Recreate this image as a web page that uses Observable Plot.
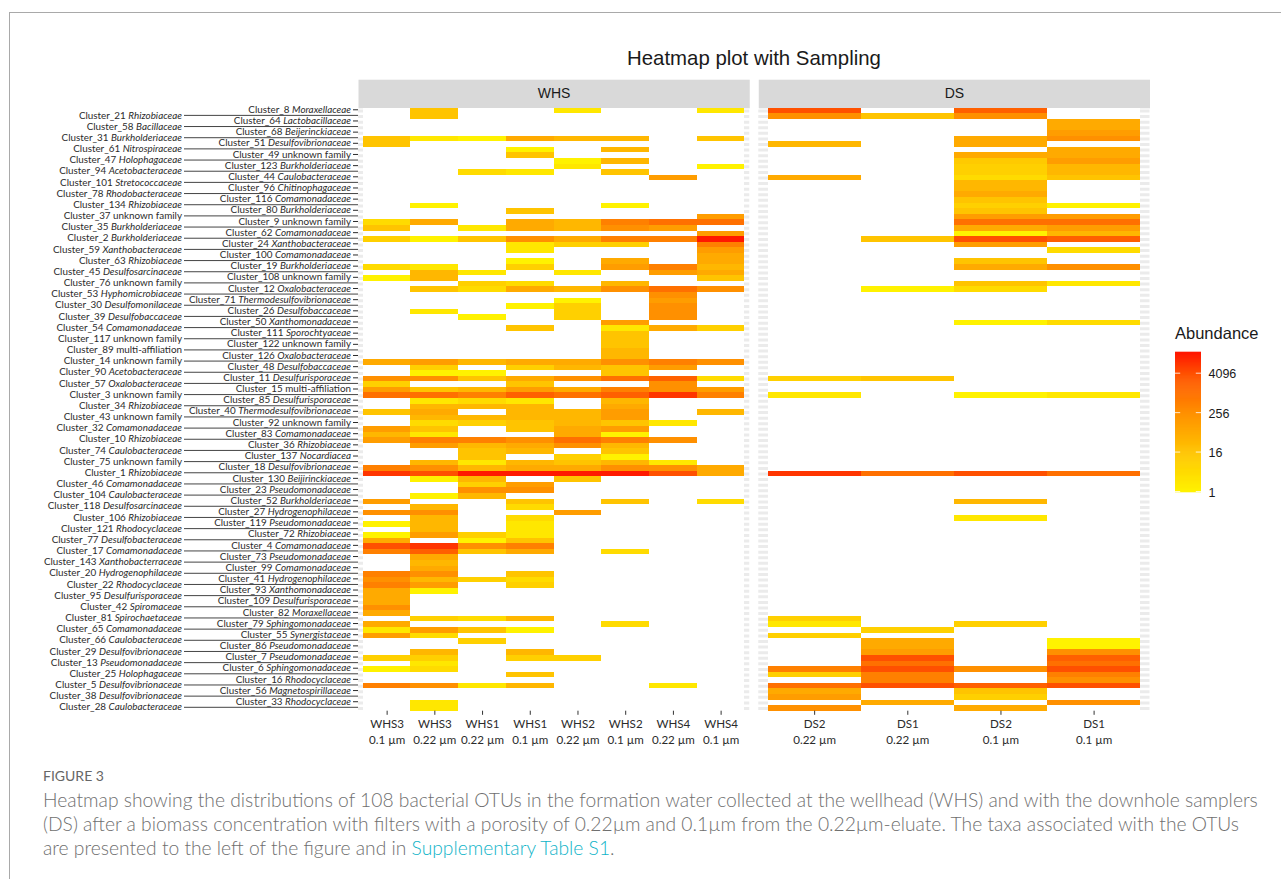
<!DOCTYPE html>
<html>
<head>
<meta charset="utf-8">
<script src="https://cdn.jsdelivr.net/npm/d3@7"></script>
<script src="https://cdn.jsdelivr.net/npm/@observablehq/plot@0.6"></script>
<style>
  html, body { margin: 0; padding: 0; background: #fff; }
  #page { position: relative; width: 1281px; height: 879px; overflow: hidden; }
  #frameLine { position: absolute; left: 9px; top: 12px; right: -5px; bottom: -5px; border-top: 1px solid #a9a9a9; border-left: 1px solid #a9a9a9; }
  #chart { position: absolute; left: 0; top: 0; }
  #legend { position: absolute; left: 1160px; top: 340px; }
  #title { position: absolute; left: 627px; top: 47px; font: 20.4px "Liberation Sans", sans-serif; color: #1a1a1a; white-space: nowrap; }
  #legendTitle { position: absolute; left: 1175px; top: 324px; font: 16.5px "Liberation Sans", sans-serif; color: #1a1a1a; white-space: nowrap; }
  #caption { position: absolute; left: 43px; top: 767px; font-family: Lato, sans-serif; color: #6f6f6f; white-space: nowrap; }
  #caption .fig { font-size: 14px; font-weight: 400; color: #666; line-height: 18px; margin-bottom: 3px; }
  #caption .line { font-size: 19.25px; line-height: 24px; font-weight: 300; }
  #caption a { color: #0fb4c8; text-decoration: none; }
</style>
</head>
<body>
<div id="page">
  <div id="frameLine"></div>
  <div id="title">Heatmap plot with Sampling</div>
  <div id="chart"></div>
  <div id="legendTitle">Abundance</div>
  <div id="legend"></div>
  <div id="caption">
    <div class="fig">FIGURE 3</div>
    <div class="line">Heatmap showing the distributions of 108 bacterial OTUs in the formation water collected at the wellhead (WHS) and with the downhole samplers</div>
    <div class="line">(DS) after a biomass concentration with filters with a porosity of 0.22µm and 0.1µm from the 0.22µm-eluate. The taxa associated with the OTUs</div>
    <div class="line">are presented to the left of the figure and in <a>Supplementary Table S1</a>.</div>
  </div>
</div>
<script>
// Row labels, top to bottom
const clusterRows = [
  "Cluster_8 Moraxellaceae","Cluster_21 Rhizobiaceae","Cluster_64 Lactobacillaceae","Cluster_58 Bacillaceae",
  "Cluster_68 Beijerinckiaceae","Cluster_31 Burkholderiaceae","Cluster_51 Desulfovibrionaceae","Cluster_61 Nitrospiraceae",
  "Cluster_49 unknown family","Cluster_47 Holophagaceae","Cluster_123 Burkholderiaceae","Cluster_94 Acetobacteraceae",
  "Cluster_44 Caulobacteraceae","Cluster_101 Stretococcaceae","Cluster_96 Chitinophagaceae","Cluster_78 Rhodobacteraceae",
  "Cluster_116 Comamonadaceae","Cluster_134 Rhizobiaceae","Cluster_80 Burkholderiaceae","Cluster_37 unknown family",
  "Cluster_9 unknown family","Cluster_35 Burkholderiaceae","Cluster_62 Comamonadaceae","Cluster_2 Burkholderiaceae",
  "Cluster_24 Xanthobacteraceae","Cluster_59 Xanthobacteraceae","Cluster_100 Comamonadaceae","Cluster_63 Rhizobiaceae",
  "Cluster_19 Burkholderiaceae","Cluster_45 Desulfosarcinaceae","Cluster_108 unknown family","Cluster_76 unknown family",
  "Cluster_12 Oxalobacteraceae","Cluster_53 Hyphomicrobiaceae","Cluster_71 Thermodesulfovibrionaceae","Cluster_30 Desulfomonilaceae",
  "Cluster_26 Desulfobaccaceae","Cluster_39 Desulfobaccaceae","Cluster_50 Xanthomonadaceae","Cluster_54 Comamonadaceae",
  "Cluster_111 Sporochtyaceae","Cluster_117 unknown family","Cluster_122 unknown family","Cluster_89 multi-affiliation",
  "Cluster_126 Oxalobacteraceae","Cluster_14 unknown family","Cluster_48 Desulfobaccaceae","Cluster_90 Acetobacteraceae",
  "Cluster_11 Desulfurisporaceae","Cluster_57 Oxalobacteraceae","Cluster_15 multi-affiliation","Cluster_3 unknown family",
  "Cluster_85 Desulfurisporaceae","Cluster_34 Rhizobiaceae","Cluster_40 Thermodesulfovibrionaceae","Cluster_43 unknown family",
  "Cluster_92 unknown family","Cluster_32 Comamonadaceae","Cluster_83 Comamonadaceae","Cluster_10 Rhizobiaceae",
  "Cluster_36 Rhizobiaceae","Cluster_74 Caulobacteraceae","Cluster_137 Nocardiacea","Cluster_75 unknown family",
  "Cluster_18 Desulfovibrionaceae","Cluster_1 Rhizobiaceae","Cluster_130 Beijirinckiaceae","Cluster_46 Comamonadaceae",
  "Cluster_23 Pseudomonadaceae","Cluster_104 Caulobacteraceae","Cluster_52 Burkholderiaceae","Cluster_118 Desulfosarcinaceae",
  "Cluster_27 Hydrogenophilaceae","Cluster_106 Rhizobiaceae","Cluster_119 Pseudomonadaceae","Cluster_121 Rhodocyclaceae",
  "Cluster_72 Rhizobiaceae","Cluster_77 Desulfobacteraceae","Cluster_4 Comamonadaceae","Cluster_17 Comamonadaceae",
  "Cluster_73 Pseudomonadaceae","Cluster_143 Xanthobacterraceae","Cluster_99 Comamonadaceae","Cluster_20 Hydrogenophilaceae",
  "Cluster_41 Hydrogenophilaceae","Cluster_22 Rhodocyclaceae","Cluster_93 Xanthomonadaceae","Cluster_95 Desulfurisporaceae",
  "Cluster_109 Desulfurisporaceae","Cluster_42 Spiromaceae","Cluster_82 Moraxellaceae","Cluster_81 Spirochaetaceae",
  "Cluster_79 Sphingomonadaceae","Cluster_65 Comamonadaceae","Cluster_55 Synergistaceae","Cluster_66 Caulobacteraceae",
  "Cluster_86 Pseudomonadaceae","Cluster_29 Desulfovibrionaceae","Cluster_7 Pseudomonadaceae","Cluster_13 Pseudomonadaceae",
  "Cluster_6 Sphingomonadaceae","Cluster_25 Holophagaceae","Cluster_16 Rhodocyclaceae","Cluster_5 Desulfovibrionaceae",
  "Cluster_56 Magnetospirillaceae","Cluster_38 Desulfovibrionaceae","Cluster_33 Rhodocyclaceae","Cluster_28 Caulobacteraceae"
];

const WHS3_01 = [[5,16],[6,16],[20,4],[21,16],[23,8],[28,4],[30,1],[45,64],[48,256],[49,8],[50,128],[51,1024],[54,16],[57,128],[58,32],[59,128],[64,512],[65,8192],[70,128],[72,256],[74,1],[76,1],[77,64],[78,4096],[79,512],[83,512],[84,256],[85,512],[86,64],[87,64],[88,64],[89,256],[90,64],[92,64],[93,2],[94,128],[98,8],[100,1],[103,512]];
const WHS3_022 = [[0,16],[1,16],[5,2],[17,1],[20,64],[23,1],[28,2],[29,32],[30,32],[32,16],[36,2],[45,128],[46,8],[47,1],[48,256],[50,16],[51,1024],[52,2],[53,32],[54,64],[55,32],[56,4],[57,16],[58,2],[59,512],[60,128],[63,32],[64,256],[65,4096],[66,1],[69,1],[71,32],[72,256],[73,32],[74,32],[75,32],[76,128],[78,8192],[79,2048],[80,64],[81,32],[82,64],[83,256],[84,32],[85,128],[86,1],[91,8],[93,128],[94,4],[97,32],[98,8],[99,2],[100,4],[103,256],[106,2],[107,2]];
const WHS1_022 = [[5,1],[11,4],[21,2],[23,16],[29,2],[31,8],[32,4],[37,1],[45,32],[47,1],[48,16],[50,32],[51,512],[52,4],[53,32],[55,32],[56,8],[59,512],[60,32],[61,16],[62,16],[63,2],[64,32],[65,16384],[66,32],[67,8],[68,256],[69,32],[76,8],[77,1],[78,256],[79,16],[84,8],[91,4],[93,16],[95,8],[103,2]];
const WHS1_01 = [[5,64],[7,1],[8,16],[11,2],[18,16],[20,64],[21,64],[23,256],[24,2],[25,2],[27,1],[28,8],[31,4],[32,64],[35,1],[39,16],[45,64],[46,8],[48,64],[49,16],[50,128],[51,2048],[52,2],[53,32],[54,32],[55,32],[56,16],[57,16],[59,256],[60,64],[61,32],[63,32],[64,64],[65,16384],[67,128],[68,256],[70,16],[71,4],[73,4],[74,2],[75,2],[76,2],[77,16],[78,512],[79,64],[83,16],[84,4],[85,8],[91,32],[93,1],[97,32],[98,8],[101,16],[103,32]];
const WHS2_022 = [[0,2],[5,32],[9,1],[10,2],[20,32],[21,32],[23,64],[24,8],[29,2],[32,32],[34,1],[35,8],[36,8],[37,8],[45,64],[46,32],[48,256],[50,64],[51,1024],[54,32],[55,32],[56,32],[57,64],[58,64],[59,1024],[60,256],[62,8],[63,16],[64,64],[65,16384],[66,16],[72,128],[98,8]];
const WHS2_01 = [[5,32],[7,32],[9,32],[11,16],[17,1],[20,512],[21,256],[23,512],[24,8],[27,64],[28,128],[31,32],[32,256],[38,128],[39,2],[40,16],[41,16],[42,16],[43,32],[44,32],[45,256],[46,16],[47,16],[48,1024],[50,512],[51,2048],[52,32],[53,64],[54,128],[55,128],[56,16],[57,128],[58,1],[59,512],[60,32],[61,16],[62,1],[63,32],[64,256],[65,16384],[70,16],[79,4],[92,4]];
const WHS4_022 = [[12,128],[20,1024],[21,128],[23,512],[28,512],[29,128],[32,1024],[33,256],[34,128],[35,256],[36,256],[37,256],[39,64],[45,512],[46,128],[48,2048],[49,256],[50,256],[51,8192],[56,2],[59,256],[63,2],[64,256],[65,4096],[103,2]];
const WHS4_01 = [[0,2],[5,16],[10,1],[19,128],[20,1024],[22,128],[23,16384],[24,512],[25,128],[26,64],[27,64],[28,32],[29,64],[30,16],[32,256],[39,8],[45,256],[48,4],[50,128],[51,512],[54,32],[64,64],[65,64],[70,4]];
const DS2_022 = [[0,4096],[1,256],[6,32],[12,64],[48,8],[51,2],[65,8192],[91,8],[92,2],[94,8],[100,512],[101,8],[103,1024],[104,64],[105,128],[107,256]];
const DS1_022 = [[1,16],[23,16],[32,1],[48,16],[65,1024],[93,8],[95,64],[96,64],[97,128],[98,4096],[99,1024],[100,4096],[101,512],[102,512],[103,4096],[106,64]];
const DS2_01 = [[0,2048],[1,256],[5,64],[6,64],[8,64],[9,11],[10,8],[11,8],[12,4],[13,32],[14,32],[15,64],[16,16],[17,8],[18,16],[19,128],[20,1024],[21,64],[22,1],[23,4096],[24,128],[27,16],[28,64],[31,16],[32,4],[38,1],[51,1],[65,4096],[70,32],[73,2],[92,8],[100,256],[103,2048],[104,16],[105,8],[107,64]];
const DS1_01 = [[2,64],[3,64],[4,128],[5,256],[7,64],[8,64],[9,128],[10,32],[11,32],[12,16],[17,1],[19,128],[20,1024],[21,128],[22,32],[23,2048],[25,4],[28,256],[31,2],[38,4],[51,2],[65,1024],[95,1],[96,1],[97,256],[98,2048],[99,1024],[100,4096],[101,512],[102,256],[103,4096],[106,256]];

// Panels and their samples, left to right
const panelNames = ["WHS", "DS"];
const whsLabels = ["WHS3\n0.1 µm","WHS3\n0.22 µm","WHS1\n0.22 µm","WHS1\n0.1 µm","WHS2\n0.22 µm","WHS2\n0.1 µm","WHS4\n0.22 µm","WHS4\n0.1 µm"];
const dsLabels = ["DS2\n0.22 µm","DS1\n0.22 µm","DS2\n0.1 µm","DS1\n0.1 µm"];
const whsSeries = [WHS3_01, WHS3_022, WHS1_022, WHS1_01, WHS2_022, WHS2_01, WHS4_022, WHS4_01];
const dsSeries = [DS2_022, DS1_022, DS2_01, DS1_01];

// Colour legend breaks
const legendTicks = [1, 16, 256, 4096];
const colorOptions = {
  type: "log", base: 2,
  domain: [1, 16, 256, 4096, 2 ** 14.2],
  range: ["#fff200", "#ffc400", "#ff9000", "#ff5000", "#ff1400"],
  interpolate: "rgb", clamp: true
};

// Discrete-axis expansion: half a band plus 0.1 either side of the columns
const expand = 0.1;
const pos = (i, n) => (i + expand) / (n + 2 * expand);

const columns = [];
const cells = [];
function addPanel(panel, labels, series) {
  const n = labels.length;
  labels.forEach((label, i) => {
    columns.push({panel, label, x: pos(i + 0.5, n)});
    series[i].forEach(([r, value]) => cells.push({panel, row: clusterRows[r], value, x1: pos(i, n), x2: pos(i + 1, n)}));
  });
}
addPanel("WHS", whsLabels, whsSeries);
addPanel("DS", dsLabels, dsSeries);

// White background (missing values) covering all the columns of each panel
const blanks = panelNames.flatMap(panel => {
  const n = panel === "WHS" ? whsLabels.length : dsLabels.length;
  return clusterRows.map(row => ({panel, row, x1: pos(0, n), x2: pos(n, n)}));
});

const evenRows = clusterRows.filter((_, i) => i % 2 === 0);
const oddRows = clusterRows.filter((_, i) => i % 2 === 1);

const labelFont = 9.85;
const chart = Plot.plot({
  width: 1281, height: 760,
  marginTop: 107.7, marginBottom: 49.2, marginLeft: 358, marginRight: 131.5,
  style: {fontFamily: "Lato, sans-serif", background: "transparent", color: "#2b2b2b"},
  fx: {domain: panelNames, paddingInner: 0.0225, paddingOuter: 0, round: false, label: null, axis: null},
  x: {domain: [0, 1], axis: null},
  y: {domain: clusterRows, padding: 0, round: false, axis: null, label: null},
  color: colorOptions,
  marks: [
    Plot.frame({fill: "#d9d9d9", stroke: null, insetTop: -28.5, insetBottom: 603}),
    Plot.ruleY(clusterRows, {y: d => d, stroke: "#ebebeb", strokeWidth: 3}),
    Plot.barX(blanks, {fx: "panel", y: "row", x1: "x1", x2: "x2", fill: "white", shapeRendering: "crispEdges"}),
    Plot.barX(cells, {fx: "panel", y: "row", x1: "x1", x2: "x2", fill: "value", shapeRendering: "crispEdges"}),
    Plot.ruleX(columns, {fx: "panel", x: "x", insetTop: 603, insetBottom: -4, stroke: "#333"}),
    Plot.text(columns, {fx: "panel", x: "x", text: "label", frameAnchor: "bottom", lineAnchor: "top", dy: 5, fontSize: 11.6, lineHeight: 1.38, fill: "#2b2b2b"}),
    Plot.axisFx({anchor: "top", tickSize: 0, tickPadding: 10.5, label: null, fontSize: 14, fontFamily: "Liberation Sans", fill: "#1a1a1a"}),
    Plot.axisY(evenRows, {anchor: "left", tickSize: 5, tickPadding: 2.5, dy: -1.2, label: null, fontSize: labelFont, stroke: "#2b2b2b", strokeWidth: 1}),
    Plot.axisY(oddRows, {anchor: "left", tickSize: 174, tickPadding: 2.5, dy: -1.2, label: null, fontSize: labelFont, stroke: "#444", strokeWidth: 1})
  ]
});
document.getElementById("chart").append(chart);

// Italicise the family part of each row label (real text stays in the same element)
chart.querySelectorAll("text").forEach(t => {
  const m = /^(Cluster_\d+ )(.+)$/.exec(t.textContent);
  if (!m || /unknown family|multi-affiliation/.test(m[2]) || t.children.length > 1) return;
  const host = t.querySelector("tspan") || t;
  host.textContent = "";
  const a = document.createElementNS("http://www.w3.org/2000/svg", "tspan");
  a.textContent = m[1];
  const b = document.createElementNS("http://www.w3.org/2000/svg", "tspan");
  b.textContent = m[2];
  b.setAttribute("font-style", "italic");
  host.append(a, b);
});

// Vertical colour bar
const legendSteps = d3.range(0, 142).map(i => 2 ** (i / 10));
const legend = Plot.plot({
  width: 121, height: 165,
  marginTop: 11, marginBottom: 14, marginLeft: 15, marginRight: 80,
  style: {fontFamily: "Liberation Sans, sans-serif", background: "transparent", color: "#1a1a1a"},
  x: {domain: [0, 1], axis: null},
  y: {type: "log", base: 2, domain: [1, 2 ** 14.2], axis: null},
  color: colorOptions,
  marks: [
    Plot.ruleY(legendSteps, {y: d => d, stroke: d => d, strokeWidth: 1.6}),
    Plot.ruleY(legendTicks, {y: d => d, x1: 0, x2: 0.2, stroke: "white", strokeOpacity: 0.8}),
    Plot.ruleY(legendTicks, {y: d => d, x1: 0.8, x2: 1, stroke: "white", strokeOpacity: 0.8}),
    Plot.axisY(legendTicks, {anchor: "right", tickSize: 0, tickPadding: 7, dy: 1, fontSize: 12.5, label: null, tickFormat: d => String(d)})
  ]
});
document.getElementById("legend").append(legend);
</script>
</body>
</html>
